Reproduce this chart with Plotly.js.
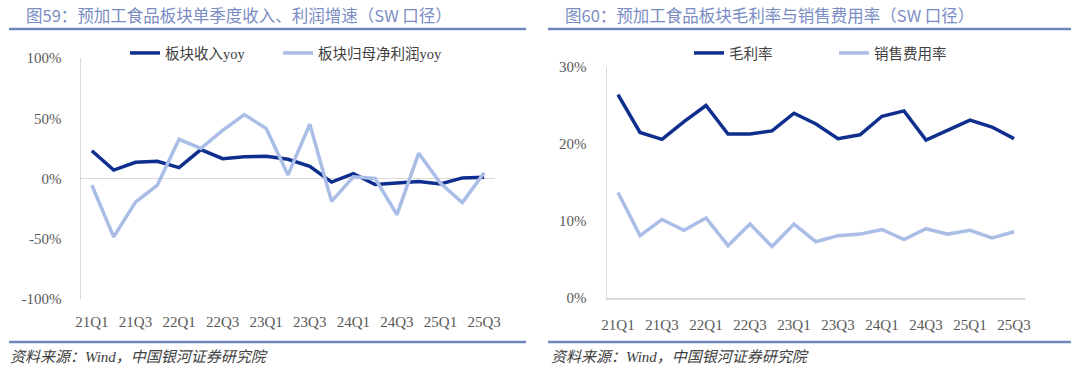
<!DOCTYPE html>
<html>
<head>
<meta charset="utf-8">
<script src="https://cdn.plot.ly/plotly-3.0.1.min.js"></script>
<style>html,body{margin:0;padding:0;background:#fff;}#chart{width:1079px;height:375px;}</style>
</head>
<body>
<div id="chart"></div>
<script>
const quarters = ["21Q1","21Q2","21Q3","21Q4","22Q1","22Q2","22Q3","22Q4","23Q1","23Q2","23Q3","23Q4","24Q1","24Q2","24Q3","24Q4","25Q1","25Q2","25Q3"];
const tickLabels = ["21Q1","21Q3","22Q1","22Q3","23Q1","23Q3","24Q1","24Q3","25Q1","25Q3"];
// Left panel: YoY growth (%)
const revenueYoy = [23, 7, 13.5, 14.3, 9, 24, 16.5, 18, 18.5, 16, 10, -3, 4, -5, -3.8, -2.5, -4.5, 0.5, 1];
const profitYoy = [-5.6, -48.5, -19.6, -5.6, 32.5, 25, 40, 53, 41.5, 3, 45, -19, 1.4, 0, -30, 21, -4, -20, 4.8];
// Right panel: ratios (%)
const grossMargin = [26.4, 21.5, 20.6, 22.9, 25.0, 21.3, 21.3, 21.7, 24.0, 22.6, 20.7, 21.2, 23.6, 24.3, 20.5, 21.8, 23.1, 22.2, 20.7];
const sellingExpenseRatio = [13.7, 8.1, 10.2, 8.8, 10.4, 6.8, 9.6, 6.7, 9.6, 7.3, 8.1, 8.3, 8.9, 7.6, 9.0, 8.3, 8.8, 7.8, 8.6];

const leftTitle = "图59：预加工食品板块单季度收入、利润增速（SW 口径）";
const rightTitle = "图60：预加工食品板块毛利率与销售费用率（SW 口径）";
const sourceText = "资料来源：Wind，中国银河证券研究院";

const dark = "#0e2f8e";
const light = "#a9bde6";
const W = 1079, H = 375;
const px = v => v / W;
const py = v => 1 - v / H;

const serif = "'Liberation Serif', 'Noto Sans CJK SC', serif";
const cjk = "'Noto Sans CJK SC', sans-serif";
const legendFont = {family: "'Liberation Serif', 'Noto Sans CJK SC', serif", size: 14.5, color: "#404040"};

const traces = [
  {x: quarters, y: revenueYoy, name: "板块收入yoy", type: "scatter", mode: "lines",
   line: {color: dark, width: 3.5}, xaxis: "x", yaxis: "y", legend: "legend"},
  {x: quarters, y: profitYoy, name: "板块归母净利润yoy", type: "scatter", mode: "lines",
   line: {color: light, width: 3.5}, xaxis: "x", yaxis: "y", legend: "legend2"},
  {x: quarters, y: grossMargin, name: "毛利率", type: "scatter", mode: "lines",
   line: {color: dark, width: 3.5}, xaxis: "x2", yaxis: "y2", legend: "legend3"},
  {x: quarters, y: sellingExpenseRatio, name: "销售费用率", type: "scatter", mode: "lines",
   line: {color: light, width: 3.5}, xaxis: "x2", yaxis: "y2", legend: "legend4"}
];

const tickFont = {family: serif, size: 15, color: "#595959"};
const catRange = [-0.5, quarters.length - 0.5];
const mkLegend = x => ({orientation: "h", x: px(x), y: py(53), xanchor: "left", yanchor: "middle",
  font: legendFont, bgcolor: "rgba(0,0,0,0)", itemclick: false});

const layout = {
  width: W, height: H,
  margin: {l: 0, r: 0, t: 0, b: 0},
  paper_bgcolor: "#fff", plot_bgcolor: "#fff",
  showlegend: true,
  xaxis: {domain: [px(81), px(495)], anchor: "y", type: "category", range: catRange,
    tickmode: "array", tickvals: tickLabels, ticktext: tickLabels,
    showline: false, showgrid: false, zeroline: false, ticks: "",
    tickfont: tickFont, ticklabelstandoff: 12, fixedrange: true},
  yaxis: {domain: [py(299), py(58)], anchor: "x", range: [-100, 100],
    tickvals: [-100, -50, 0, 50, 100], ticktext: ["-100%","-50%","0%","50%","100%"],
    showgrid: false, zeroline: true, zerolinecolor: "#d9d9d9", zerolinewidth: 1.5,
    showline: true, linecolor: "#d9d9d9", linewidth: 1.5,
    ticks: "", tickfont: tickFont, ticklabelstandoff: 15, fixedrange: true},
  xaxis2: {domain: [px(607), px(1025)], anchor: "y2", type: "category", range: catRange,
    tickmode: "array", tickvals: tickLabels, ticktext: tickLabels,
    showline: true, linecolor: "#d9d9d9", linewidth: 1.5,
    showgrid: false, zeroline: false, ticks: "",
    tickfont: tickFont, ticklabelstandoff: 12, fixedrange: true},
  yaxis2: {domain: [py(298), py(67)], anchor: "x2", range: [0, 30],
    tickvals: [0, 10, 20, 30], ticktext: ["0%","10%","20%","30%"],
    showgrid: false, zeroline: false,
    showline: true, linecolor: "#d9d9d9", linewidth: 1.5,
    ticks: "", tickfont: tickFont, ticklabelstandoff: 16, fixedrange: true},
  legend: mkLegend(125),
  legend2: mkLegend(278),
  legend3: mkLegend(689),
  legend4: mkLegend(834),
  shapes: [
    {type: "line", xref: "paper", yref: "paper", x0: px(9), x1: px(526), y0: py(29), y1: py(29), line: {color: "#6f86bb", width: 2.5}},
    {type: "line", xref: "paper", yref: "paper", x0: px(548), x1: px(1071), y0: py(29), y1: py(29), line: {color: "#6f86bb", width: 2.5}},
    {type: "line", xref: "paper", yref: "paper", x0: px(9), x1: px(526), y0: py(342), y1: py(342), line: {color: "#6f86bb", width: 2.5}},
    {type: "line", xref: "paper", yref: "paper", x0: px(548), x1: px(1071), y0: py(342), y1: py(342), line: {color: "#6f86bb", width: 2.5}}
  ],
  annotations: [
    {text: leftTitle, xref: "paper", yref: "paper", x: px(24), y: py(15), xanchor: "left", yanchor: "middle",
     showarrow: false, font: {family: cjk, size: 16.5, color: "#7a8cc4"}},
    {text: rightTitle, xref: "paper", yref: "paper", x: px(563), y: py(15), xanchor: "left", yanchor: "middle",
     showarrow: false, font: {family: cjk, size: 16.5, color: "#7a8cc4"}},
    {text: "<i>" + sourceText + "</i>", xref: "paper", yref: "paper", x: px(8), y: py(357), xanchor: "left", yanchor: "middle",
     showarrow: false, font: {family: serif, size: 15, color: "#404040"}},
    {text: "<i>" + sourceText + "</i>", xref: "paper", yref: "paper", x: px(549), y: py(357), xanchor: "left", yanchor: "middle",
     showarrow: false, font: {family: serif, size: 15, color: "#404040"}}
  ]
};

Plotly.newPlot("chart", traces, layout, {displayModeBar: false, staticPlot: true});
</script>
</body>
</html>
